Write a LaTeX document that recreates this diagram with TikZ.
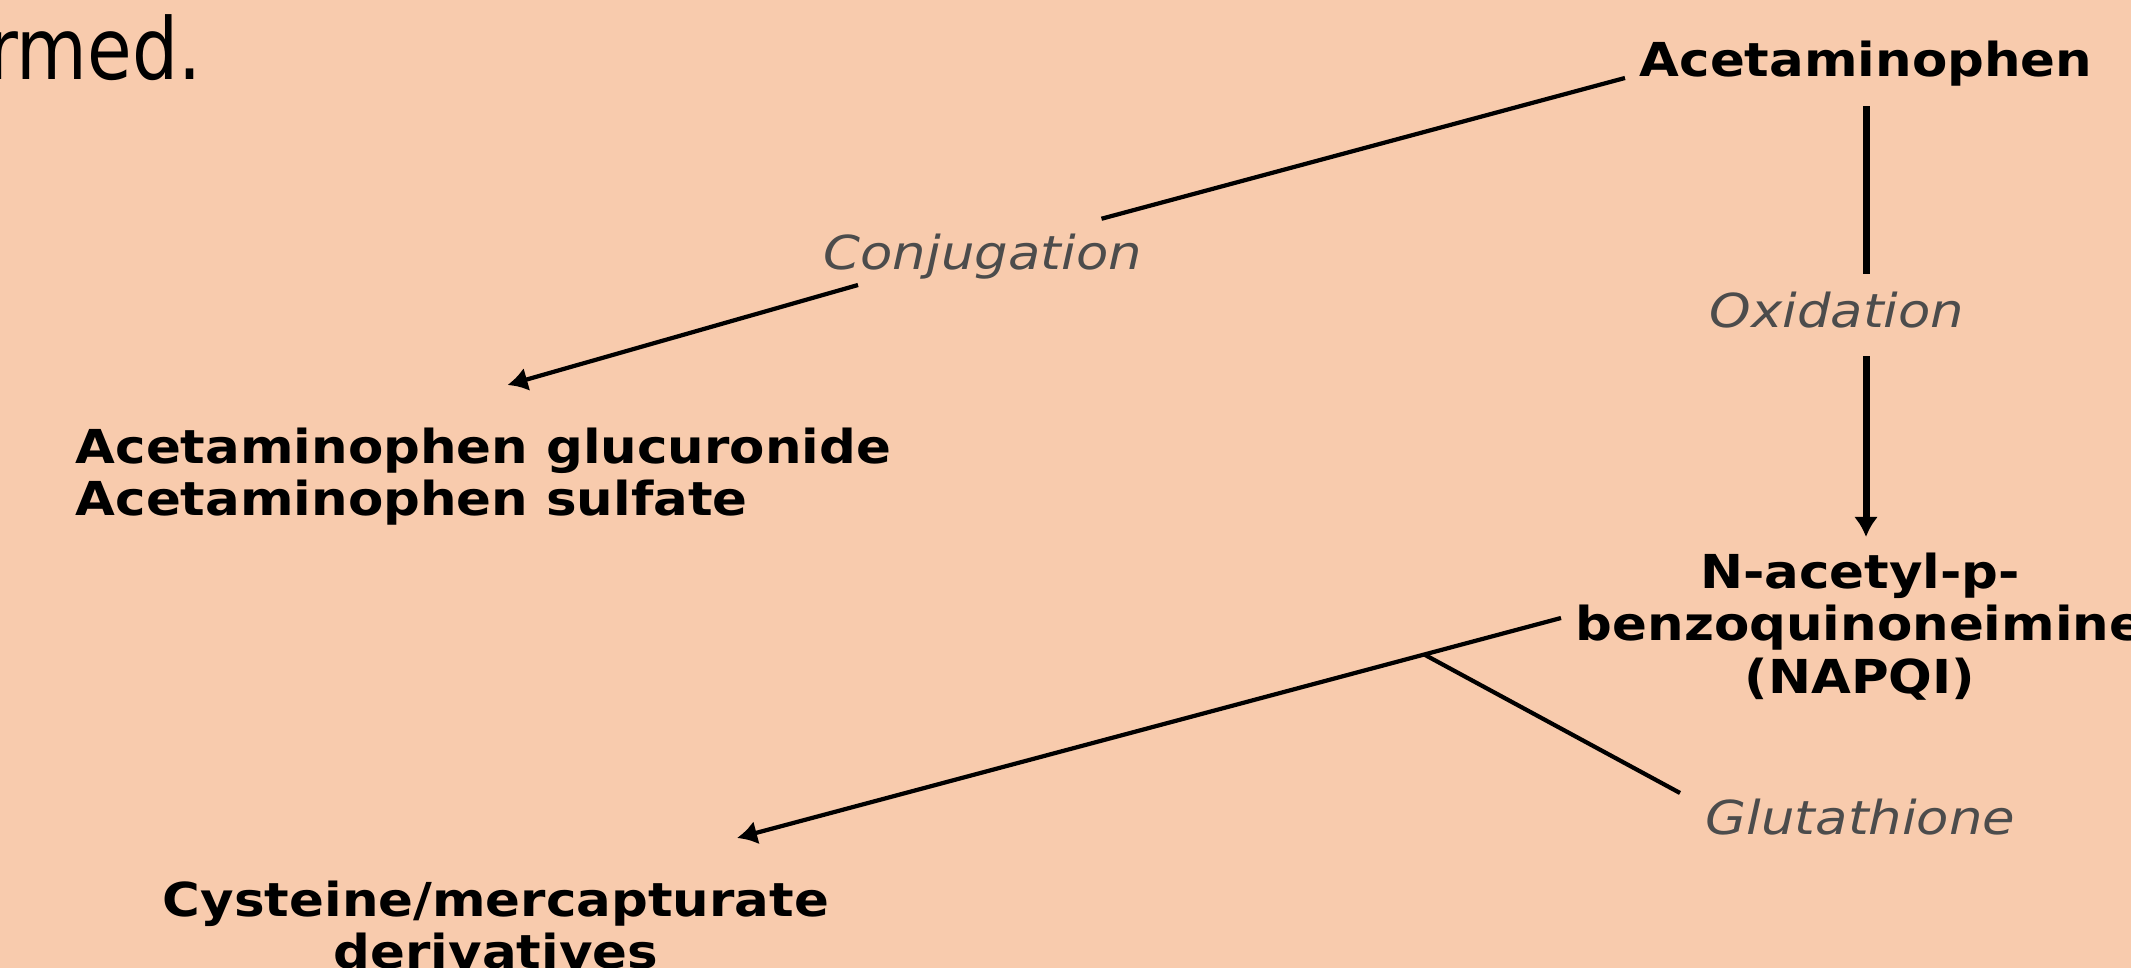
\documentclass[tikz,border=0pt]{standalone}
\usepackage{fontspec}
\newfontfamily\labfont{DejaVu Sans}[FakeStretch=1.1]
\newfontfamily\oblfont{DejaVu Sans}[FakeStretch=1.13]
\newfontfamily\slidefont{DejaVu Sans}[FakeStretch=0.85]
\usetikzlibrary{arrows.meta}
\definecolor{peach}{HTML}{F8CBAD}

\begin{document}
\begin{tikzpicture}[x=0.01cm, y=-0.01cm,
        cpd/.style={font=\labfont\bfseries\fontsize{13.3}{15}\selectfont, inner sep=0pt},
        rxn/.style={font=\oblfont\itshape\fontsize{13.3}{15}\selectfont, text=black!70, inner sep=0pt},
        lin/.style={line width=1.2pt},
        vlin/.style={line width=2pt},
        arr/.style={-{Latex[length=2mm,width=2.4mm]}}]
      \clip (0,0) rectangle (2131,968);
      \fill[peach] (0,0) rectangle (2131,968);
      \node[anchor=base east, inner sep=0pt, font=\slidefont\fontsize{24.3}{29}\selectfont] (rmed) at (202,80) {rmed.};
      \node[cpd, anchor=base] (acet) at (1866,77) {Acetaminophen};
      \node[rxn, anchor=base] (oxid) at (1837,328) {Oxidation};
      \node[cpd, anchor=north, align=center] (napqi) at (1860,552) {N-acetyl-p-\\benzoquinoneimine\\(NAPQI)};
      \node[rxn, anchor=base west] (glut) at (1705,835) {Glutathione};
      \node[rxn, anchor=base west] (conj) at (823,270) {Conjugation};
      \node[cpd, anchor=north west, align=left] (gluc) at (75,427) {Acetaminophen glucuronide\\Acetaminophen sulfate};
      \node[cpd, anchor=north, align=center] (cyst) at (496,880) {Cysteine/mercapturate\\derivatives};
      \draw[vlin, shorten <=1.9mm, shorten >=1.8mm] (acet) -- (acet |- oxid.north);
      \draw[vlin, arr, shorten <=2.7mm, shorten >=1.5mm] (acet |- oxid.south) -- (acet |- napqi.north);
      \draw[lin] ([shift={(-14,1)}]acet.base west) -- ([shift={(-41,-15)}]conj.north east);
      \draw[lin, arr] ([shift={(35,15)}]conj.base west) -- ([shift={(24,-42)}]gluc.north);
      \draw[lin, arr] ([shift={(-14,66)}]napqi.north west) -- coordinate[pos=0.166] (junc) ([shift={(241,-42)}]cyst.north);
      \draw[lin] ([shift={(-25,-42)}]glut.base west) -- (junc);
    \end{tikzpicture}
\end{document}
